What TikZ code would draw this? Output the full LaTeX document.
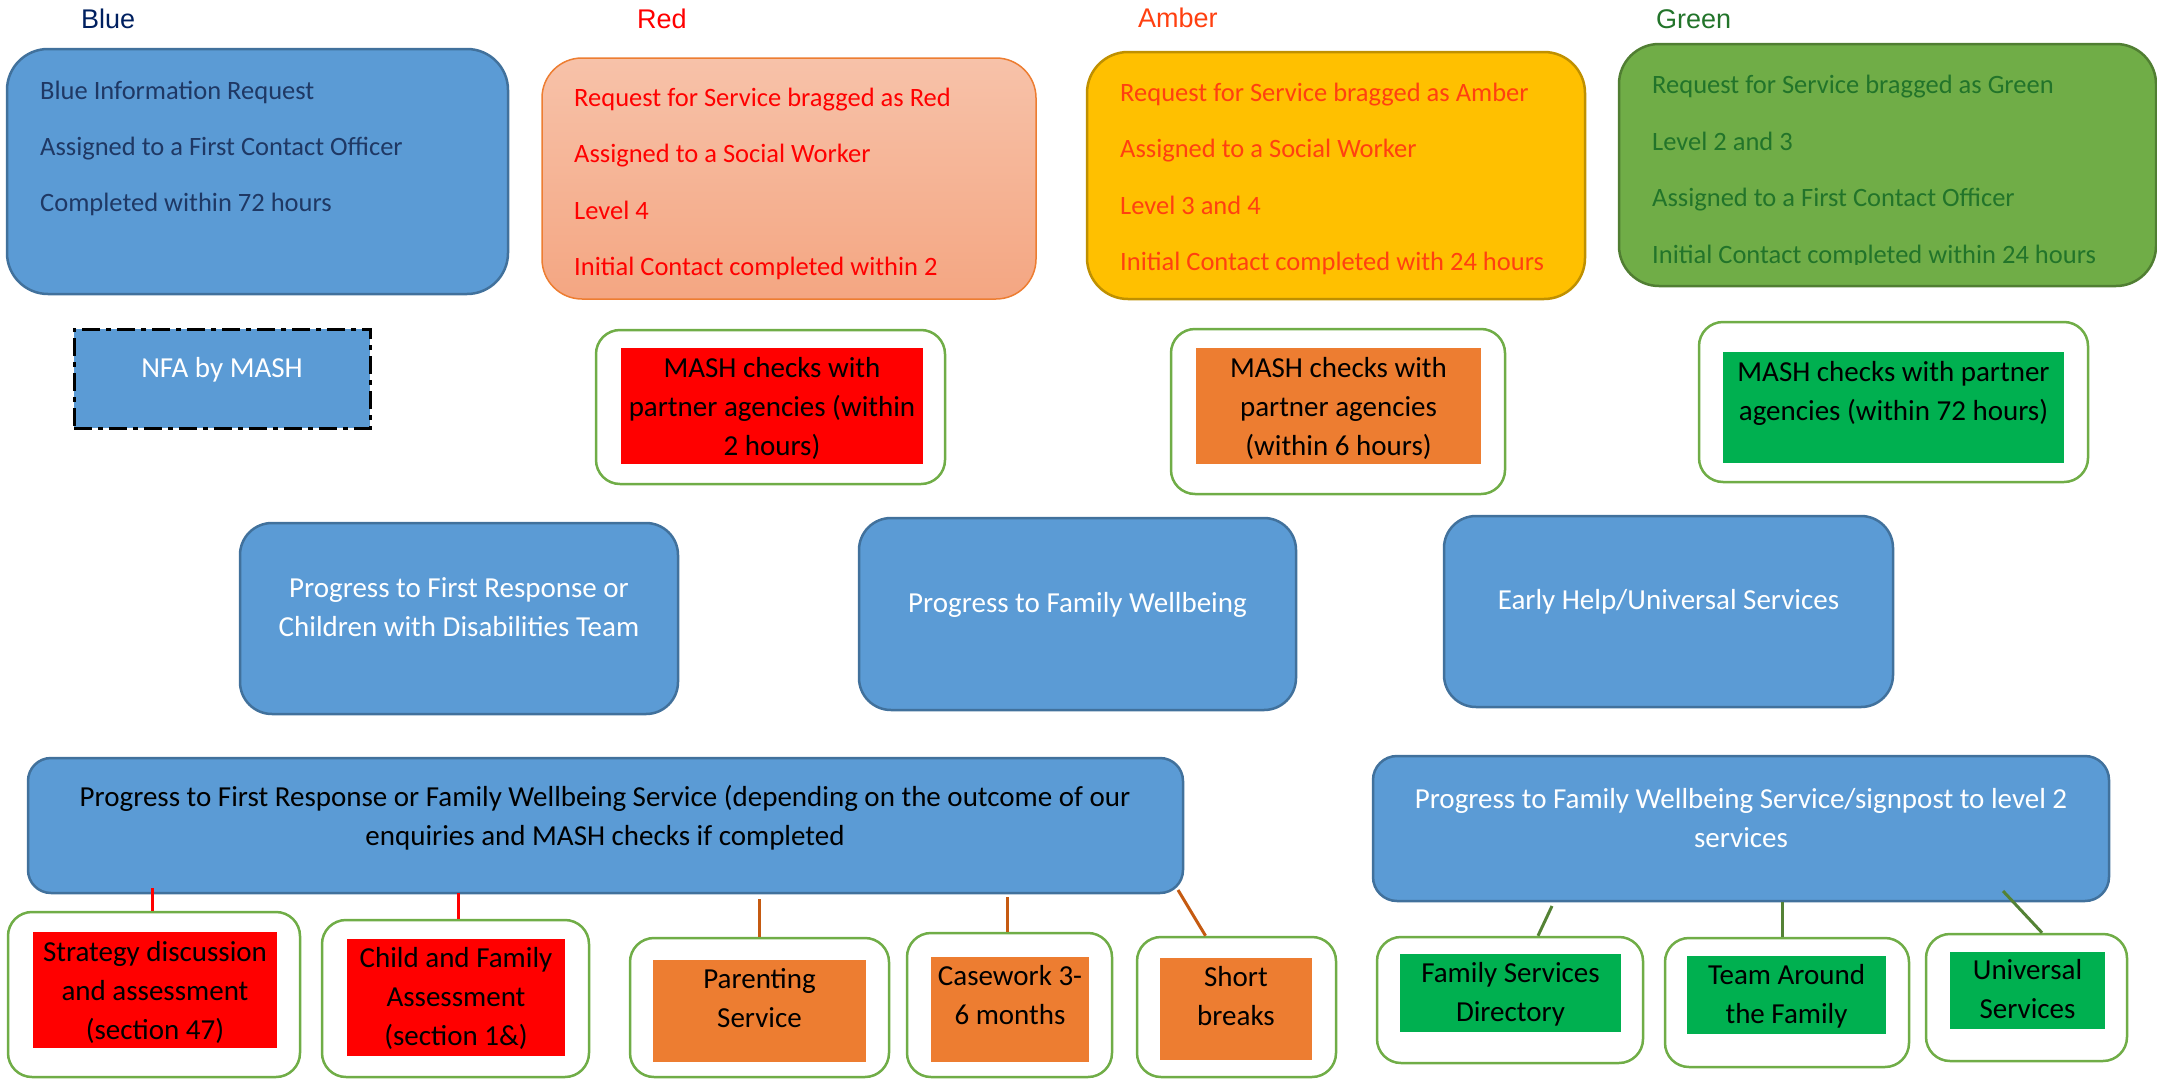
\documentclass[tikz,border=0pt]{standalone}
\usepackage{fontspec}
\setmainfont{Carlito}
\newfontfamily\labelfont{Liberation Sans}
\usetikzlibrary{fit}
\definecolor{cBlue}{HTML}{5B9BD5}
\definecolor{cBlueEdge}{HTML}{41719C}
\definecolor{cNavy}{HTML}{1F3864}
\definecolor{cLabelNavy}{HTML}{002060}
\definecolor{cSalmonTop}{HTML}{F7C2A9}
\definecolor{cSalmonBot}{HTML}{F4A682}
\definecolor{cOrange}{HTML}{ED7D31}
\definecolor{cAmber}{HTML}{FFC000}
\definecolor{cAmberEdge}{HTML}{BF9000}
\definecolor{cAmberText}{HTML}{FF4010}
\definecolor{cGreen}{HTML}{70AD47}
\definecolor{cGreenEdge}{HTML}{507E32}
\definecolor{cGreenText}{HTML}{22742A}
\definecolor{cBrightGreen}{HTML}{00B050}
\definecolor{cBrown}{HTML}{C55A11}
\definecolor{cDarkGreen}{HTML}{548235}
\definecolor{cRed}{HTML}{FF0000}
\tikzset{
  bluebox/.style={draw=cBlueEdge, fill=cBlue, line width=2.5pt, inner sep=0pt},
  outerbox/.style={draw=cGreen, fill=white, line width=2.5pt, inner sep=0pt, rounded corners=24pt},
  innerbox/.style={inner sep=0pt},
  toptext/.style={anchor=north west, inner sep=0pt, align=left},
  ctext/.style={align=center, inner sep=0pt, font=\fontsize{29}{39}\selectfont},
  hlabel/.style={anchor=base west, inner sep=0pt, font=\labelfont\fontsize{27}{32}\selectfont},
  redline/.style={draw=cRed, line width=3pt},
  brownline/.style={draw=cBrown, line width=3pt},
  greenline/.style={draw=cDarkGreen, line width=3pt}
}
\begin{document}
\begin{tikzpicture}[x=1pt, y=-1pt]
\useasboundingbox (0,0) rectangle (2157,1079);
\clip (0,0) rectangle (2157,1079);

% header labels
\node[hlabel, text=cLabelNavy] (lblue) at (81,28) {Blue};
\node[hlabel, text=cRed] (lred) at (637,28) {Red};
\node[hlabel, text=cAmberText] (lamber) at (1138,27.5) {Amber};
\node[hlabel, text=cGreenText] (lgreen) at (1656,28) {Green};

% top boxes
\node[bluebox, rounded corners=41pt, fit={(7,49)(508,294)}] (blue) {};
\node[draw=cOrange, line width=1.5pt, top color=cSalmonTop, bottom color=cSalmonBot, rounded corners=40pt, inner sep=0pt, fit={(542,58)(1036,299)}] (red) {};
\node[draw=cAmberEdge, fill=cAmber, line width=2.5pt, rounded corners=41pt, inner sep=0pt, fit={(1087,52)(1585,299)}] (amber) {};
\node[draw=cGreenEdge, fill=cGreen, line width=2.5pt, rounded corners=40pt, inner sep=0pt, fit={(1619,44)(2156,286)}] (green) {};

\node[toptext, text=cNavy, font=\fontsize{26.5}{56}\selectfont] (bluetxt) at (40,60.2)
  {\strut Blue Information Request\\Assigned to a First Contact Officer\\Completed within 72 hours};
\node[toptext, text=cRed, font=\fontsize{26.5}{56.3}\selectfont] (redtxt) at (574,67)
  {\strut Request for Service bragged as Red\\Assigned to a Social Worker\\Level 4\\Initial Contact completed within 2};
\node[toptext, text=cAmberText, font=\fontsize{26.5}{56.3}\selectfont] (ambertxt) at (1120,62)
  {\strut Request for Service bragged as Amber\\Assigned to a Social Worker\\Level 3 and 4\\Initial Contact completed with 24 hours};
\begin{scope}
\clip (1619,44) rectangle (2157,264);
\node[toptext, text=cGreenText, font=\fontsize{26.5}{56.7}\selectfont] (greentxt) at (1652,53.7)
  {\strut Request for Service bragged as Green\\Level 2 and 3\\Assigned to a First Contact Officer\\Initial Contact completed within 24 hours};
\end{scope}

% second row
\node[draw=black, fill=cBlue, line width=3pt, dash pattern=on 18pt off 6pt on 5pt off 6pt, inner sep=0pt, fit={(74,329)(370,428)}] (nfa) {};
\node[ctext, text=white] (nfatxt) at (222,369.5) {\strut NFA by MASH};

\node[outerbox, fit={(596,330)(945,484)}] (mashR) {};
\node[innerbox, fill=cRed, fit={(621,348)(923,464)}] (mashRin) {};
\node[ctext] (mashRtxt) at (772,409) {\strut MASH checks with\\partner agencies (within\\2 hours)\strut};

\node[outerbox, fit={(1171,329)(1505,494)}] (mashA) {};
\node[innerbox, fill=cOrange, fit={(1196,348)(1481,464)}] (mashAin) {};
\node[ctext] (mashAtxt) at (1338.5,409) {\strut MASH checks with\\partner agencies\\(within 6 hours)\strut};

\node[outerbox, fit={(1699,322)(2088,482)}] (mashG) {};
\node[innerbox, fill=cBrightGreen, fit={(1723,352)(2064,463)}] (mashGin) {};
\node[ctext] (mashGtxt) at (1893.5,393.5) {\strut MASH checks with partner\\agencies (within 72 hours)\strut};

% third row
\node[bluebox, rounded corners=32pt, fit={(240,523)(678,714)}] (fr) {};
\node[ctext, text=white] (frtxt) at (459,609) {\strut Progress to First Response or\\Children with Disabilities Team\strut};
\node[bluebox, rounded corners=32pt, fit={(859,518)(1296,710)}] (fw) {};
\node[ctext, text=white] (fwtxt) at (1077.5,604.5) {\strut Progress to Family Wellbeing};
\node[bluebox, rounded corners=32pt, fit={(1444,516)(1893,707)}] (eh) {};
\node[ctext, text=white] (ehtxt) at (1668.5,601.5) {\strut Early Help/Universal Services};

% fourth row
\node[bluebox, rounded corners=23pt, fit={(28,758)(1183,893)}] (big1) {};
\node[ctext] (big1txt) at (605,818) {\strut Progress to First Response or Family Wellbeing Service (depending on the outcome of our\\enquiries and MASH checks if completed\strut};
\node[bluebox, rounded corners=24pt, fit={(1373,756)(2109,901)}] (big2) {};
\node[ctext, text=white] (big2txt) at (1741,820.5) {\strut Progress to Family Wellbeing Service/signpost to level 2\\services\strut};

% leaves
\node[outerbox, fit={(8,912)(300,1077)}] (l1) {};
\node[innerbox, fill=cRed, fit={(33,932)(277,1048)}] (l1in) {};
\node[ctext] (l1txt) at (155,992.5) {\strut Strategy discussion\\and assessment\\(section 47)\strut};

\node[outerbox, fit={(322,920)(589,1077)}] (l2) {};
\node[innerbox, fill=cRed, fit={(347,939)(565,1056)}] (l2in) {};
\node[ctext] (l2txt) at (456,999) {\strut Child and Family\\Assessment\\(section 1\&)\strut};

\node[outerbox, fit={(630,938)(889,1077)}] (l3) {};
\node[innerbox, fill=cOrange, fit={(653,960)(866,1062)}] (l3in) {};
\node[ctext] (l3txt) at (759.5,1000.5) {\strut Parenting\\Service\strut};

\node[outerbox, fit={(907,933)(1112,1077)}] (l4) {};
\node[innerbox, fill=cOrange, fit={(931,957)(1089,1062)}] (l4in) {};
\node[ctext] (l4txt) at (1010,997.5) {\strut Casework 3-\\6 months\strut};

\node[outerbox, fit={(1137,937)(1336,1077)}] (l5) {};
\node[innerbox, fill=cOrange, fit={(1160,958)(1312,1060)}] (l5in) {};
\node[ctext] (l5txt) at (1236,998) {\strut Short\\breaks\strut};

\node[outerbox, fit={(1377,937)(1643,1063)}] (l6) {};
\node[innerbox, fill=cBrightGreen, fit={(1400,954)(1621,1032)}] (l6in) {};
\node[ctext] (l6txt) at (1510.5,994.5) {\strut Family Services\\Directory\strut};

\node[outerbox, fit={(1665,938)(1909,1067)}] (l7) {};
\node[innerbox, fill=cBrightGreen, fit={(1687,956)(1886,1034)}] (l7in) {};
\node[ctext] (l7txt) at (1786.5,996) {\strut Team Around\\the Family\strut};

\node[outerbox, fit={(1926,934)(2127,1061)}] (l8) {};
\node[innerbox, fill=cBrightGreen, fit={(1950,952)(2105,1029)}] (l8in) {};
\node[ctext] (l8txt) at (2027.5,991) {\strut Universal\\Services\strut};

% connectors
\coordinate (c1) at (152,888);
\coordinate (c2) at (458,893);
\coordinate (c3) at (759,899);
\coordinate (c4) at (1007,897);
\coordinate (c5) at (1178,890);
\coordinate (c6) at (1552,906);
\coordinate (c7) at (1782,902);
\coordinate (c8) at (2003,891);
\draw[redline] (c1) -- (c1 |- l1.north);
\draw[redline] (c2) -- (c2 |- l2.north);
\draw[brownline] (c3) -- (c3 |- l3.north);
\draw[brownline] (c4) -- (c4 |- l4.north);
\draw[brownline] (c5) -- ([xshift=-31pt]l5.north);
\draw[greenline] (c6) -- ([xshift=28pt]l6.north);
\draw[greenline] (c7) -- (c7 |- l7.north);
\draw[greenline] (c8) -- ([xshift=15.5pt]l8.north);
\end{tikzpicture}
\end{document}
